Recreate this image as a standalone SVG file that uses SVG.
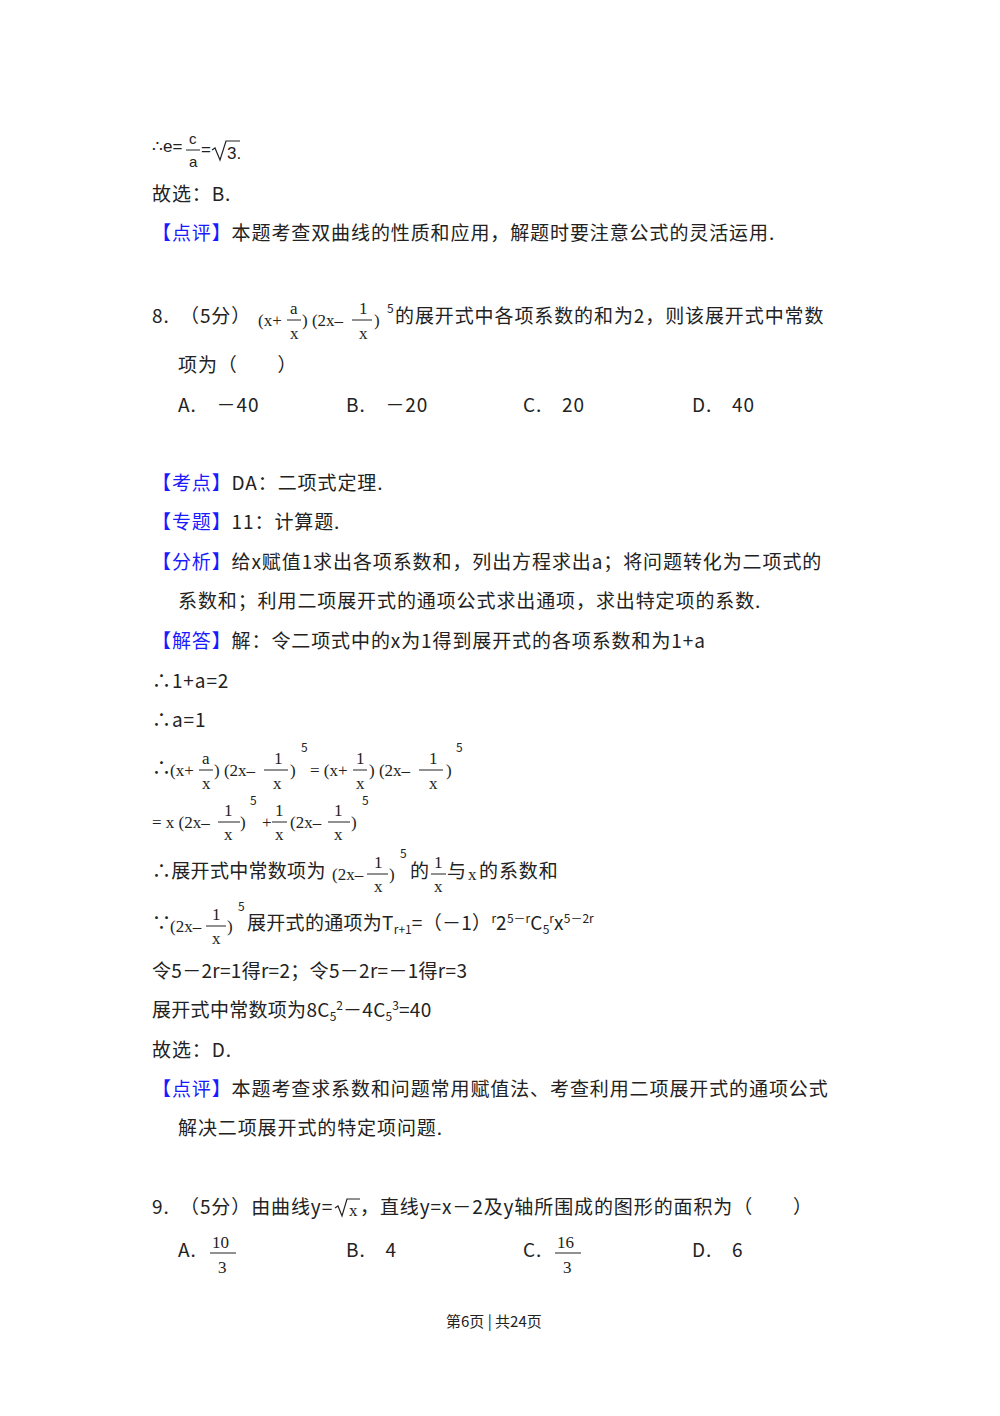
<svg xmlns="http://www.w3.org/2000/svg" width="1000" height="1416" viewBox="0 0 1000 1416">
<style>
text{font-family:"Noto Sans CJK SC","Liberation Sans",sans-serif;font-size:19px;letter-spacing:0.9px;fill:#222}
.b{fill:#1a1aff}
.m{font-family:"Liberation Serif","Noto Sans CJK SC",serif;font-size:17px;letter-spacing:0}
.s{font-size:12px;letter-spacing:0}
.f{font-family:"Liberation Sans",sans-serif;font-size:15px;letter-spacing:0}
line{stroke:#222;stroke-width:1}
</style>
<rect width="1000" height="1416" fill="#fff"/>
<g id="top">
<text class="f" x="152" y="152" style="font-size:17px">∴e=</text>
<text class="f" x="189" y="144">c</text><line x1="186" y1="150" x2="200" y2="150"/><text class="f" x="189" y="167">a</text>
<text class="f" x="201" y="155" style="font-size:17px">=</text>
<path d="M212 150 l3 -2 l5 12 l6 -19 h14" fill="none" stroke="#222" stroke-width="1.2"/>
<text class="f" x="227" y="159" style="font-size:17px">3.</text>
<text x="152" y="201">故选：B.</text>
<text x="152" y="240"><tspan class="b">【点评】</tspan>本题考查双曲线的性质和应用，解题时要注意公式的灵活运用.</text>
</g>
<g id="q8">
<text x="152" y="323">8.　（5分）</text>
<text class="m" x="258" y="326">(x+</text><text class="m" x="290" y="314">a</text><line x1="287" y1="320" x2="301" y2="320"/><text class="m" x="290" y="339">x</text>
<text class="m" x="302" y="326">) (2x–</text><line x1="352" y1="320" x2="372" y2="320"/><text class="m" x="359" y="314">1</text><text class="m" x="359" y="339">x</text>
<text class="m" x="374" y="326">)</text><text class="s" x="387" y="313">5</text>
<text x="395" y="323">的展开式中各项系数的和为2，则该展开式中常数</text>
<text x="178" y="372">项为（　　）</text>
<text x="178" y="412">A.　－40</text><text x="346" y="412">B.　－20</text><text x="523" y="412">C.　20</text><text x="692" y="412">D.　40</text>
<text x="152" y="490"><tspan class="b">【考点】</tspan>DA：二项式定理.</text>
<text x="152" y="529"><tspan class="b">【专题】</tspan>11：计算题.</text>
<text x="152" y="569"><tspan class="b">【分析】</tspan>给x赋值1求出各项系数和，列出方程求出a；将问题转化为二项式的</text>
<text x="178" y="608">系数和；利用二项展开式的通项公式求出通项，求出特定项的系数.</text>
<text x="152" y="648"><tspan class="b">【解答】</tspan>解：令二项式中的x为1得到展开式的各项系数和为1+a</text>
<text x="152" y="688">∴1+a=2</text>
<text x="152" y="727">∴a=1</text>
<text x="152" y="775">∴</text>
<text class="m" x="170" y="776">(x+</text><text class="m" x="202" y="764">a</text><line x1="199" y1="770" x2="213" y2="770"/><text class="m" x="202" y="789">x</text>
<text class="m" x="214" y="776">) (2x–</text><line x1="264" y1="770" x2="288" y2="770"/><text class="m" x="274" y="764">1</text><text class="m" x="273" y="789">x</text>
<text class="m" x="290" y="776">)</text><text class="s" x="301" y="752">5</text>
<text class="m" x="310" y="776">= (x+</text><text class="m" x="356" y="764">1</text><line x1="353" y1="770" x2="367" y2="770"/><text class="m" x="356" y="789">x</text>
<text class="m" x="369" y="776">) (2x–</text><line x1="419" y1="770" x2="443" y2="770"/><text class="m" x="429" y="764">1</text><text class="m" x="429" y="789">x</text>
<text class="m" x="446" y="776">)</text><text class="s" x="456" y="752">5</text>
<text class="m" x="152" y="828">= x (2x–</text><line x1="218" y1="822" x2="240" y2="822"/><text class="m" x="224" y="816">1</text><text class="m" x="224" y="840">x</text>
<text class="m" x="240" y="828">)</text><text class="s" x="250" y="805">5</text>
<text class="m" x="262" y="828">+</text><text class="m" x="275" y="816">1</text><line x1="272" y1="822" x2="287" y2="822"/><text class="m" x="275" y="840">x</text>
<text class="m" x="290" y="828">(2x–</text><line x1="328" y1="822" x2="350" y2="822"/><text class="m" x="334" y="816">1</text><text class="m" x="334" y="840">x</text>
<text class="m" x="351" y="828">)</text><text class="s" x="362" y="805">5</text>
<text x="152" y="878" style="letter-spacing:0.3px">∴展开式中常数项为</text>
<text class="m" x="332" y="880">(2x–</text><line x1="367" y1="874" x2="388" y2="874"/><text class="m" x="374" y="868">1</text><text class="m" x="374" y="892">x</text>
<text class="m" x="389" y="880">)</text><text class="s" x="400" y="858">5</text>
<text x="410" y="878">的</text><text class="m" x="434" y="868">1</text><line x1="431" y1="874" x2="446" y2="874"/><text class="m" x="434" y="892">x</text>
<text x="447" y="878">与</text><text class="m" x="468" y="880">x</text><text x="479" y="878">的系数和</text>
<text x="152" y="930">∵</text>
<text class="m" x="170" y="932">(2x–</text><line x1="206" y1="926" x2="226" y2="926"/><text class="m" x="212" y="920">1</text><text class="m" x="212" y="944">x</text>
<text class="m" x="227" y="932">)</text><text class="s" x="238" y="911">5</text>
<text x="247" y="930" style="letter-spacing:0.3px">展开式的通项为T<tspan class="s" dy="4">r+1</tspan><tspan dy="-4">=（－1）</tspan><tspan class="s" dy="-7">r</tspan><tspan dy="7">2</tspan><tspan class="s" dy="-7">5－r</tspan><tspan dy="7">C</tspan><tspan class="s" dy="4">5</tspan><tspan class="s" dy="-11">r</tspan><tspan dy="7">x</tspan><tspan class="s" dy="-7">5－2r</tspan></text>
<text x="152" y="978" style="letter-spacing:0.3px">令5－2r=1得r=2；令5－2r=－1得r=3</text>
<text x="152" y="1017" style="letter-spacing:0.3px">展开式中常数项为8C<tspan class="s" dy="4">5</tspan><tspan class="s" dy="-11">2</tspan><tspan dy="7">－4C</tspan><tspan class="s" dy="4">5</tspan><tspan class="s" dy="-11">3</tspan><tspan dy="7">=40</tspan></text>
<text x="152" y="1057">故选：D.</text>
<text x="152" y="1096"><tspan class="b">【点评】</tspan>本题考查求系数和问题常用赋值法、考查利用二项展开式的通项公式</text>
<text x="178" y="1135">解决二项展开式的特定项问题.</text>
</g>
<g id="q9">
<text x="152" y="1214">9.　（5分）由曲线y=</text>
<path d="M335 1208 l3 -2 l4 10 l5 -17 h13" fill="none" stroke="#222" stroke-width="1.2"/>
<text class="m" x="349" y="1216">x</text>
<text x="360" y="1214">，直线y=x－2及y轴所围成的图形的面积为（　　）</text>
<text x="178" y="1257">A.</text><text class="m" x="212" y="1248">10</text><line x1="210" y1="1253" x2="236" y2="1253"/><text class="m" x="218" y="1273">3</text>
<text x="346" y="1257">B.　4</text>
<text x="523" y="1257">C.</text><text class="m" x="557" y="1248">16</text><line x1="555" y1="1253" x2="581" y2="1253"/><text class="m" x="563" y="1273">3</text>
<text x="692" y="1257">D.　6</text>
</g>
<text x="446" y="1327" style="font-size:15px;letter-spacing:0">第6页 | 共24页</text>
</svg>
